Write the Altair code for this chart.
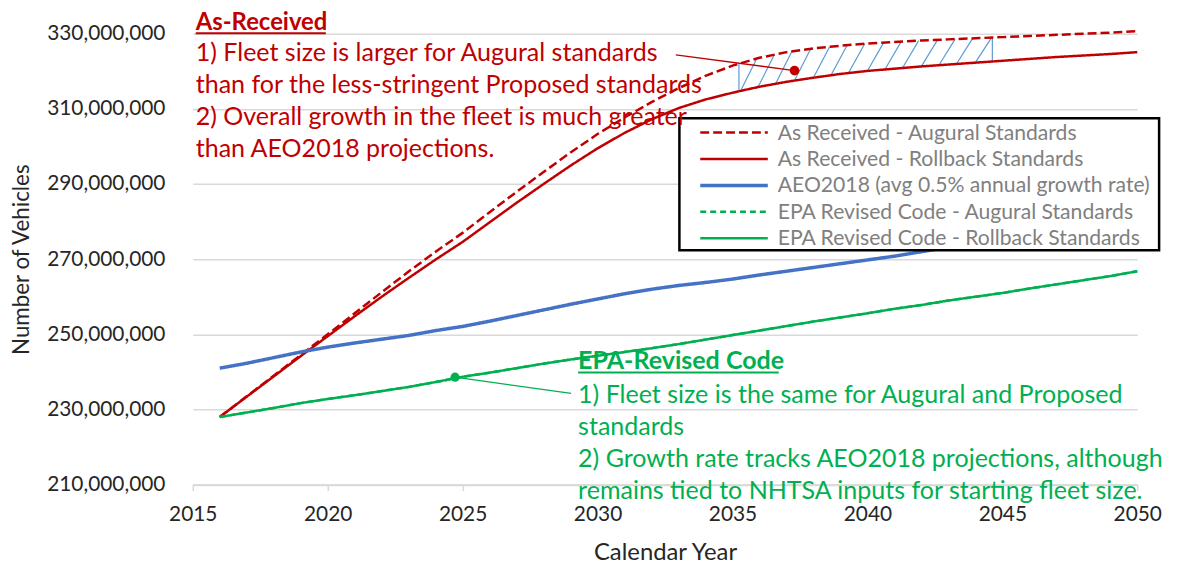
import altair as alt
import pandas as pd
import numpy as np

# ---------------- data (millions of vehicles) ----------------
years = list(range(2016, 2051))

ar_augural = [228.0, 233.5, 239.0, 244.5, 250.0, 255.6, 261.2, 266.7, 272.0, 277.0,
              282.5, 287.9, 293.2, 298.4, 303.3, 307.7, 311.8, 315.5, 318.8, 321.5,
              323.6, 325.1, 326.1, 326.8, 327.4, 327.8, 328.2, 328.5, 328.8, 329.1,
              329.4, 329.7, 330.0, 330.3, 330.7]
ar_rollback = [228.0, 233.4, 238.8, 244.2, 249.5, 254.8, 260.0, 265.0, 269.9, 274.6,
               279.8, 285.0, 290.0, 294.9, 299.5, 303.6, 307.2, 310.2, 312.5, 314.3,
               315.9, 317.2, 318.3, 319.3, 320.1, 320.7, 321.3, 321.8, 322.3, 322.8,
               323.3, 323.8, 324.2, 324.6, 325.1]
aeo2018 = [241.0, 242.3, 243.8, 245.3, 246.6, 247.7, 248.7, 249.7, 251.0, 252.1,
           253.5, 255.0, 256.5, 258.0, 259.4, 260.8, 262.0, 263.0, 263.8, 264.7,
           265.8, 266.8, 267.8, 268.8, 269.8, 270.8, 272.0, 273.2, 274.3, 275.4,
           276.5, 277.5, 278.5, 279.5, 280.5]
epa_augural = [228.0, 229.2, 230.4, 231.7, 232.8, 233.8, 234.9, 236.0, 237.3, 238.7,
               239.8, 241.0, 242.2, 243.3, 244.3, 245.3, 246.3, 247.4, 248.6, 249.8,
               251.0, 252.2, 253.4, 254.5, 255.6, 256.8, 257.8, 259.0, 260.0, 261.0,
               262.2, 263.3, 264.4, 265.5, 266.8]
epa_rollback = [228.0, 229.2, 230.4, 231.7, 232.8, 233.8, 234.9, 236.0, 237.3, 238.7,
                239.8, 241.0, 242.2, 243.3, 244.3, 245.3, 246.3, 247.4, 248.6, 249.8,
                251.0, 252.2, 253.4, 254.5, 255.6, 256.8, 257.8, 259.0, 260.0, 261.0,
                262.2, 263.3, 264.4, 265.5, 266.8]

series_names = [
    "As Received - Augural Standards",
    "As Received - Rollback Standards",
    "AEO2018 (avg 0.5% annual growth rate)",
    "EPA Revised Code - Augural Standards",
    "EPA Revised Code - Rollback Standards",
]

x_ticks = [2015, 2020, 2025, 2030, 2035, 2040, 2045, 2050]
y_ticks_m = [210, 230, 250, 270, 290, 310, 330]

# hatched region between the two As-Received curves
hatch_left, hatch_right = 2035.24, 2044.63
hatch_starts = [2035.3, 2035.95, 2036.6, 2037.3, 2038.0, 2038.65, 2039.3,
                2040.0, 2040.65, 2041.3, 2042.0, 2042.65, 2043.3, 2044.0]

# callouts (year, millions)
red_dot = (2037.3, 320.2)
red_line_start = (2032.9, 324.4)
green_dot = (2024.72, 238.6)
green_line_end = (2029.02, 234.3)

red_title = "As-Received"
red_lines = ["1) Fleet size is larger for Augural standards",
             "than for the less-stringent Proposed standards",
             "2) Overall growth in the fleet is much greater",
             "than AEO2018 projections."]
green_title = "EPA-Revised Code"
green_lines = ["1) Fleet size is the same for Augural and Proposed",
               "standards",
               "2) Growth rate tracks AEO2018 projections, although",
               "remains tied to NHTSA inputs for starting fleet size."]

# ---------------- styling ----------------
RED = "#C00000"
BLUE = "#4472C4"
GREEN = "#00B050"
HATCH = "#5B9BD5"
colors = [RED, RED, BLUE, GREEN, GREEN]
dashes = [[9, 4], [1, 0], [1, 0], [6, 4], [1, 0]]
widths = [2.5, 2.5, 3.5, 2.5, 2.5]
FONT = "Lato"
NOTE_SIZE = 25.2

# ---------------- tables ----------------
rows = []
for name, vals in zip(series_names, [ar_augural, ar_rollback, aeo2018, epa_augural, epa_rollback]):
    for yr, v in zip(years, vals):
        rows.append({"year": yr, "series": name, "vehicles": v * 1e6})
df = pd.DataFrame(rows)

hrows = []
for s in hatch_starts:
    e = min(s + 0.6, hatch_right)
    hrows.append({"year": s, "vehicles": np.interp(s, years, ar_rollback) * 1e6,
                  "year2": e, "vehicles2": np.interp(e, years, ar_augural) * 1e6})
for b in (hatch_left, hatch_right):
    hrows.append({"year": b, "vehicles": np.interp(b, years, ar_rollback) * 1e6,
                  "year2": b, "vehicles2": np.interp(b, years, ar_augural) * 1e6})
hatch_df = pd.DataFrame(hrows)

red_call = pd.DataFrame([{"year": red_line_start[0], "vehicles": red_line_start[1] * 1e6,
                          "year2": red_dot[0], "vehicles2": red_dot[1] * 1e6}])
green_call = pd.DataFrame([{"year": green_dot[0], "vehicles": green_dot[1] * 1e6,
                            "year2": green_line_end[0], "vehicles2": green_line_end[1] * 1e6}])
red_dot_df = pd.DataFrame([{"year": red_dot[0], "vehicles": red_dot[1] * 1e6}])
green_dot_df = pd.DataFrame([{"year": green_dot[0], "vehicles": green_dot[1] * 1e6}])
one = alt.Data(values=[{"k": 1}])

# ---------------- encodings ----------------
x_scale = alt.Scale(domain=[2015, 2050], nice=False, zero=False)
y_scale = alt.Scale(domain=[210e6, 330e6], nice=False, zero=False)

X = alt.X("year:Q", scale=x_scale, axis=alt.Axis(
    values=x_ticks, format="d", title="Calendar Year", grid=False,
    ticks=True, tickSize=6, tickColor="#D9D9D9", tickWidth=1.5,
    domainColor="#D9D9D9", domainWidth=2, labelPadding=13,
    labelFont=FONT, labelFontSize=21, labelColor="#262626",
    labelFlush=False, labelOverlap=False,
    titleFont=FONT, titleFontSize=24, titleFontWeight="normal", titleColor="#262626",
    titleY=75, titleBaseline="alphabetic"))
Y = alt.Y("vehicles:Q", scale=y_scale, axis=alt.Axis(
    values=[v * 1e6 for v in y_ticks_m], format=",d", title="Number of Vehicles",
    grid=True, gridColor="#D9D9D9", gridWidth=1.5, domain=False, ticks=False, tickSize=0,
    labelPadding=28, labelFont=FONT, labelFontSize=21, labelColor="#262626",
    labelFlush=False, labelOverlap=False,
    titleFont=FONT, titleFontSize=22.5, titleFontWeight="normal", titleColor="#262626",
    titleAngle=-90, titleX=-172, titleY=227, titleAlign="center", titleBaseline="middle"))

color_enc = alt.Color("series:N", scale=alt.Scale(domain=series_names, range=colors), legend=None)
dash_enc = alt.StrokeDash("series:N", scale=alt.Scale(domain=series_names, range=dashes), legend=None)

layers = []

# hatch first (under the lines)
layers.append(alt.Chart(hatch_df).mark_rule(color=HATCH, strokeWidth=1.2).encode(
    x=X, y=Y, x2="year2:Q", y2="vehicles2:Q"))

for name, w in zip(series_names, widths):
    layers.append(alt.Chart(df).transform_filter(alt.datum.series == name)
                  .mark_line(strokeWidth=w, strokeCap="butt")
                  .encode(x=X, y=Y, color=color_enc, strokeDash=dash_enc))

# ---------------- legend box (drawn over the lines) ----------------
layers.append(alt.Chart(one).mark_rect(fill="white", stroke="black", strokeWidth=2.5)
              .encode(x=alt.value(490), x2=alt.value(973), y=alt.value(85), y2=alt.value(218)))
for i, (c, d, w) in enumerate(zip(colors, dashes, widths)):
    yy = 99.5 + i * 26.6
    layers.append(alt.Chart(one).mark_rule(color=c, strokeDash=d, strokeWidth=w, strokeCap="butt")
                  .encode(x=alt.value(511), x2=alt.value(579), y=alt.value(yy)))
layers.append(alt.Chart(one).mark_text(text=series_names, font=FONT, fontSize=21.3, lineHeight=26.6,
                                       color="#808080", align="left", baseline="alphabetic")
              .encode(x=alt.value(589), y=alt.value(106.5)))

# callouts
layers.append(alt.Chart(red_call).mark_rule(color=RED, strokeWidth=1.3).encode(
    x=X, y=Y, x2="year2:Q", y2="vehicles2:Q"))
layers.append(alt.Chart(red_dot_df).mark_circle(size=95, color=RED, opacity=1).encode(x=X, y=Y))
layers.append(alt.Chart(green_call).mark_rule(color=GREEN, strokeWidth=1.3).encode(
    x=X, y=Y, x2="year2:Q", y2="vehicles2:Q"))
layers.append(alt.Chart(green_dot_df).mark_circle(size=85, color=GREEN, opacity=1).encode(x=X, y=Y))

# annotation texts
layers.append(alt.Chart(one).mark_text(text=red_title, font=FONT, fontSize=24, fontWeight="bold",
                                       color=RED, align="left", baseline="alphabetic")
              .encode(x=alt.value(3), y=alt.value(-4)))
layers.append(alt.Chart(one).mark_rule(color=RED, strokeWidth=2)
              .encode(x=alt.value(3), x2=alt.value(134), y=alt.value(-0.5)))
layers.append(alt.Chart(one).mark_text(text=red_lines, font=FONT, fontSize=NOTE_SIZE, lineHeight=32.3,
                                       color=RED, align="left", baseline="alphabetic")
              .encode(x=alt.value(3), y=alt.value(27.5)))

layers.append(alt.Chart(one).mark_text(text=green_title, font=FONT, fontSize=NOTE_SIZE, fontWeight="bold",
                                       color=GREEN, align="left", baseline="alphabetic")
              .encode(x=alt.value(388), y=alt.value(337.5)))
layers.append(alt.Chart(one).mark_rule(color=GREEN, strokeWidth=2)
              .encode(x=alt.value(388), x2=alt.value(590), y=alt.value(341)))
layers.append(alt.Chart(one).mark_text(text=green_lines, font=FONT, fontSize=NOTE_SIZE, lineHeight=32.3,
                                       color=GREEN, align="left", baseline="alphabetic")
              .encode(x=alt.value(388), y=alt.value(372)))

chart = alt.layer(*layers).properties(
    width=951, height=454,
    autosize=alt.AutoSizeParams(type="none"),
    padding={"left": 186, "top": 24, "right": 39, "bottom": 81},
    background="white",
).configure_view(stroke=None)

chart.save("out.html", embed_options={"renderer": "svg", "actions": False})
